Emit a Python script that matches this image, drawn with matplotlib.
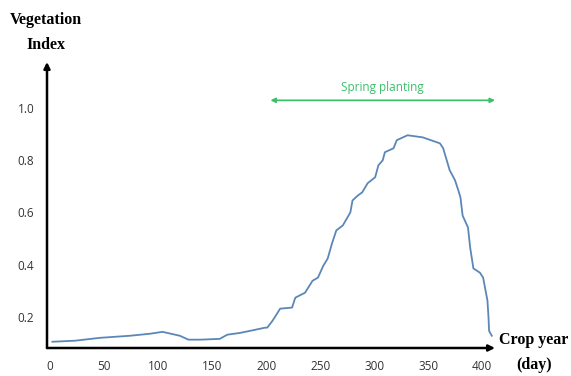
import matplotlib.pyplot as plt

# vegetation index curve
days = [2, 23, 46, 74, 93, 104, 120, 128, 139, 157, 164, 176, 190, 199, 201,
        206, 213, 224, 227, 236, 243, 248, 253, 257, 261, 265, 271, 278, 280,
        285, 289, 294, 301, 304, 308, 310, 318, 321, 331, 345, 361, 364, 370,
        375, 378, 380, 382, 387, 389, 392, 398, 401, 405, 406, 406.5, 409]
vi = [0.104, 0.108, 0.119, 0.127, 0.135, 0.142, 0.127, 0.112, 0.112, 0.115,
      0.131, 0.138, 0.150, 0.158, 0.158, 0.185, 0.231, 0.235, 0.273, 0.292,
      0.338, 0.350, 0.396, 0.423, 0.481, 0.531, 0.550, 0.600, 0.646, 0.665,
      0.677, 0.712, 0.735, 0.781, 0.800, 0.831, 0.846, 0.877, 0.896, 0.888,
      0.865, 0.846, 0.762, 0.723, 0.685, 0.658, 0.588, 0.542, 0.465, 0.385,
      0.369, 0.350, 0.262, 0.196, 0.146, 0.127]

x_ticks = [0, 50, 100, 150, 200, 250, 300, 350, 400]
y_ticks = [0.2, 0.4, 0.6, 0.8, 1.0]
spring = (204, 412)
spring_level = 1.03

fig = plt.figure(figsize=(5.71, 3.76), dpi=100)
ax = fig.add_axes([47 / 571, 28 / 376, (495 - 47) / 571, (348 - 62) / 376])
ax.set_xlim(-3, 412)
ax.set_ylim(0.08, 1.177)

ax.plot(days, vi, color='#5b87b8', lw=1.3)

for s in ax.spines.values():
    s.set_visible(False)
# axes drawn as arrows
ax.annotate('', xy=(0, 1), xytext=(0, 0), xycoords='axes fraction',
            arrowprops=dict(arrowstyle='-|>', color='black', lw=1.8,
                            mutation_scale=9, shrinkA=0, shrinkB=0))
ax.annotate('', xy=(1, 0), xytext=(0, 0), xycoords='axes fraction',
            arrowprops=dict(arrowstyle='-|>', color='black', lw=1.8,
                            mutation_scale=9, shrinkA=0, shrinkB=0))

ax.set_xticks(x_ticks)
ax.set_yticks(y_ticks)
ax.set_yticklabels(['%.1f' % v for v in y_ticks])
ax.tick_params(length=0, labelsize=8.5, labelcolor='#333333')
ax.tick_params(axis='x', pad=9)
ax.tick_params(axis='y', pad=9)
for lab in ax.get_xticklabels() + ax.get_yticklabels():
    lab.set_family('Open Sans')

# spring planting span
ax.annotate('', xy=(spring[1], spring_level), xytext=(spring[0], spring_level),
            arrowprops=dict(arrowstyle='<|-|>', color='#3cbf6a', lw=1.2,
                            mutation_scale=7, shrinkA=0, shrinkB=0))
ax.text(sum(spring) / 2, spring_level + 0.025, 'Spring planting', color='#3cbf6a',
        ha='center', va='bottom', fontsize=8.5, family='Open Sans')

title_kw = dict(ha='center', va='center', fontsize=11.5, fontweight='bold',
                family='Liberation Serif')
fig.text(46 / 571, 1 - 20 / 376, 'Vegetation', **title_kw)
fig.text(46 / 571, 1 - 45 / 376, 'Index', **title_kw)
fig.text(534 / 571, 1 - 340 / 376, 'Crop year', **title_kw)
fig.text(534 / 571, 1 - 365 / 376, '(day)', **title_kw)

fig.savefig('out.png', dpi=100)
